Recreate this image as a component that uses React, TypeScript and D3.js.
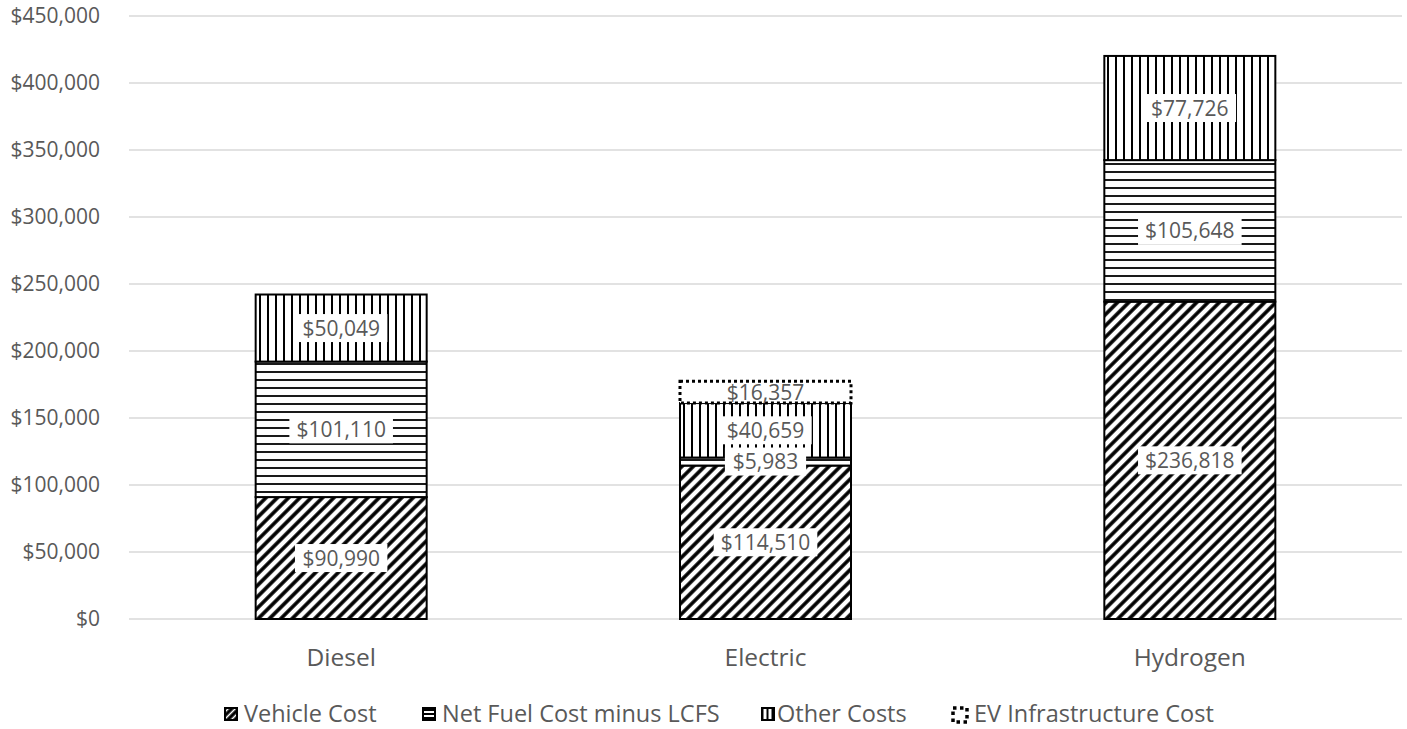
import React from "react";
import * as d3 from "d3";

const categories = ["Diesel", "Electric", "Hydrogen"];
const seriesNames = ["Vehicle Cost", "Net Fuel Cost minus LCFS", "Other Costs", "EV Infrastructure Cost"];
const vehicleCost = [90990, 114510, 236818];
const netFuelCost = [101110, 5983, 105648];
const otherCosts = [50049, 40659, 77726];
const evInfraCost = [0, 16357, 0];
const yTicks = [0, 50000, 100000, 150000, 200000, 250000, 300000, 350000, 400000, 450000];

const W = 1407;
const H = 729;
const FONT = "'Open Sans', 'Noto Sans', sans-serif";
const GRAY = "#595959";

const fmt = (v: number) => "$" + d3.format(",")(v);

const patternIds = ["pDiag", "pHoriz", "pVert", "none"];

export default function App() {
  const x = d3.scaleBand<string>().domain(categories).range([129, 1402]).paddingInner(0.597).paddingOuter(0.2985);
  const y = d3.scaleLinear().domain([0, 450000]).range([619, 16]);

  const seriesValues = [vehicleCost, netFuelCost, otherCosts, evInfraCost];
  const stackData = categories.map((c, i) => {
    const o: any = { cat: c };
    seriesNames.forEach((s, k) => (o[s] = seriesValues[k][i]));
    return o;
  });
  const stacked = d3.stack().keys(seriesNames)(stackData);

  const legendItems = [
    { name: seriesNames[0], icon: 225, text: 244 },
    { name: seriesNames[1], icon: 423, text: 442 },
    { name: seriesNames[2], icon: 762, text: 777 },
    { name: seriesNames[3], icon: 953, text: 974 },
  ];

  return (
    <svg width={W} height={H} style={{ position: "absolute", left: 0, top: 0, background: "#fff" }}>
      <defs>
        <pattern id="pDiag" width={8} height={8} patternUnits="userSpaceOnUse" patternTransform="rotate(45)">
          <rect width={8} height={8} fill="#fff" />
          <line x1={4} y1={0} x2={4} y2={8} stroke="#000" strokeWidth={3.6} />
        </pattern>
        <pattern id="pHoriz" width={8} height={8} patternUnits="userSpaceOnUse">
          <rect width={8} height={8} fill="#fff" />
          <line x1={0} y1={4} x2={8} y2={4} stroke="#000" strokeWidth={1.8} />
        </pattern>
        <pattern id="pVert" width={8} height={8} patternUnits="userSpaceOnUse">
          <rect width={8} height={8} fill="#fff" />
          <line x1={4} y1={0} x2={4} y2={8} stroke="#000" strokeWidth={2} />
        </pattern>
        <pattern id="lDiag" width={5} height={5} patternUnits="userSpaceOnUse" patternTransform="rotate(45)">
          <rect width={5} height={5} fill="#000" />
          <line x1={2.5} y1={0} x2={2.5} y2={5} stroke="#fff" strokeWidth={1.6} />
        </pattern>
        <pattern id="lHoriz" width={4} height={4} patternUnits="userSpaceOnUse">
          <rect width={4} height={4} fill="#fff" />
          <line x1={0} y1={2} x2={4} y2={2} stroke="#000" strokeWidth={2} />
        </pattern>
        <pattern id="lVert" width={5} height={5} patternUnits="userSpaceOnUse">
          <rect width={5} height={5} fill="#fff" />
          <line x1={2.5} y1={0} x2={2.5} y2={5} stroke="#000" strokeWidth={2} />
        </pattern>
      </defs>

      {yTicks.map((t) => (
        <g key={t}>
          <line x1={129} x2={1402} y1={y(t)} y2={y(t)} stroke="#d9d9d9" strokeWidth={1.5} />
          <text x={100} y={y(t)} dy="0.35em" textAnchor="end" fontFamily={FONT} fontSize={21} fill={GRAY}>
            {fmt(t)}
          </text>
        </g>
      ))}

      {stacked.map((s, k) =>
        s.map((d, i) => {
          const v = seriesValues[k][i];
          if (!v) return null;
          const bx = x(categories[i])!;
          const bw = x.bandwidth();
          const y0 = y(d[0]);
          const y1 = y(d[1]);
          const isInfra = k === 3;
          return (
            <rect
              key={`${k}-${i}`}
              x={bx}
              y={y1}
              width={bw}
              height={y0 - y1}
              fill={isInfra ? "#fff" : `url(#${patternIds[k]})`}
              stroke="#000"
              strokeWidth={isInfra ? 3 : 2}
              strokeDasharray={isInfra ? "3 3" : undefined}
            />
          );
        })
      )}

      {stacked.map((s, k) =>
        s.map((d, i) => {
          const v = seriesValues[k][i];
          if (!v) return null;
          const cx = x(categories[i])! + x.bandwidth() / 2;
          const cy = y((d[0] + d[1]) / 2);
          const label = fmt(v);
          const tw = label.length * 11.2 - 2;
          const isInfra = k === 3;
          return (
            <g key={`l${k}-${i}`}>
              {!isInfra && <rect x={cx - tw / 2 - 8} y={cy - 14} width={tw + 16} height={28} fill="#fff" />}
              <text x={cx} y={cy} dy="0.36em" textAnchor="middle" fontFamily={FONT} fontSize={21} fill={GRAY}>
                {label}
              </text>
            </g>
          );
        })
      )}

      {categories.map((c) => (
        <text key={c} x={x(c)! + x.bandwidth() / 2} y={666} textAnchor="middle" fontFamily={FONT} fontSize={24.5} fill={GRAY}>
          {c}
        </text>
      ))}

      {legendItems.map((it, k) => (
        <g key={it.name}>
          <rect
            x={it.icon}
            y={708}
            width={k === 3 ? 14 : 12}
            height={k === 3 ? 14 : 12}
            fill={k === 3 ? "#fff" : `url(#${["lDiag", "lHoriz", "lVert"][k]})`}
            stroke="#000"
            strokeWidth={k === 3 ? 3.5 : 2}
            strokeDasharray={k === 3 ? "3.5 3.5" : undefined}
          />
          <text x={it.text} y={714} dy="0.36em" fontFamily={FONT} fontSize={23.5} fill={GRAY}>
            {it.name}
          </text>
        </g>
      ))}
    </svg>
  );
}
